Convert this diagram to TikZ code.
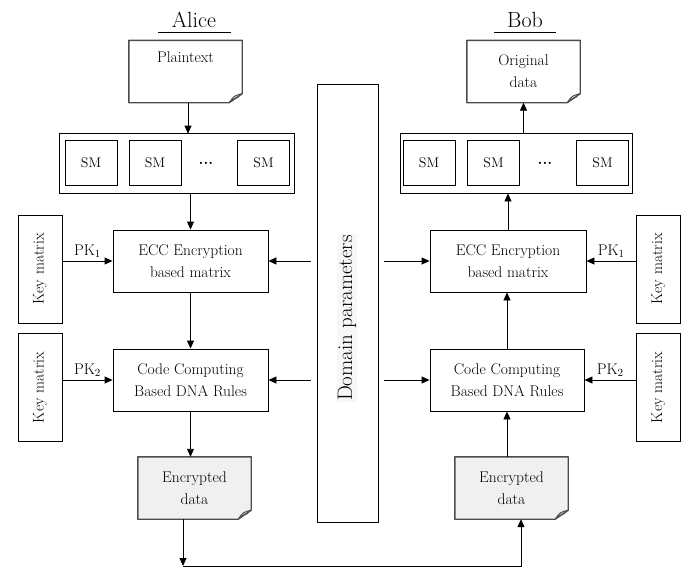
\documentclass[tikz,border=0pt]{standalone}
\usepackage{graphicx}
\usepackage{tikz}
\usetikzlibrary{arrows.meta,backgrounds}
\newcommand{\boxfont}{\fontsize{15.5}{22}\selectfont}
\newcommand{\namefont}{\fontsize{22}{26}\selectfont}
% outline of a document node, with the folded corner
\newcommand{\dogear}[2][white]{%
  \begin{scope}[on background layer]
    \draw[docline,fill=#1] (#2.north west) -- (#2.north east) -- ([yshift=9pt]#2.south east)
      -- ([xshift=-13pt]#2.south east) -- (#2.south west) -- cycle;
  \end{scope}
  \draw[docline,line width=1pt] ([xshift=-13pt]#2.south east)
    .. controls ([xshift=-8pt,yshift=7pt]#2.south east) .. ([yshift=9pt]#2.south east);
  \draw[docline,line width=0.8pt] ([xshift=-10pt,yshift=3pt]#2.south east) -- ([xshift=-3pt,yshift=6pt]#2.south east);
}
\tikzset{
  box/.style={draw, line width=0.9pt, align=center, inner sep=0pt, font=\boxfont},
  docnode/.style={align=center, inner sep=0pt, minimum width=113pt, minimum height=62pt, font=\boxfont},
  docline/.style={line width=1.4pt, draw=black!70, line join=round},
  smbox/.style={draw, line width=0.9pt, minimum width=52pt, minimum height=45pt, inner sep=0pt,
    font=\fontsize{14}{16}\selectfont},
  keybox/.style={box, minimum width=44pt, minimum height=108pt},
  arr/.style={-{Triangle[length=8pt,width=7pt]}, line width=0.9pt},
}
\begin{document}
\begin{tikzpicture}[x=1pt, y=-1pt]
  \useasboundingbox (0,0) rectangle (686,571);

  % headings
  \node[font=\namefont] (alice) at (194,20) {Alice};
  \draw[line width=0.9pt] ([shift={(-36pt,-5pt)}]alice.base) -- ([shift={(37pt,-5pt)}]alice.base);
  \node[font=\namefont] (bob) at (525,20) {Bob};
  \draw[line width=0.9pt] ([shift={(-31pt,-5pt)}]bob.base) -- ([shift={(31pt,-5pt)}]bob.base);

  % documents at the top
  \node[docnode] (plain) at (185.5,71.5) {Plaintext\\\strut};
  \dogear{plain}
  \node[docnode] (orig) at (523.5,71.5) {Original\\data};
  \dogear{orig}

  % SM rows
  \node[box, minimum width=235pt, minimum height=60pt] (smA) at (176.5,163) {};
  \foreach \x/\n in {91/1,155/2,263.5/3}
    \node[smbox] (smA\n) at (\x,162.5) {SM};
  \node[font=\boxfont] (dotsA) at (206,163) {\textbf{...}};
  \node[box, minimum width=232pt, minimum height=60pt] (smB) at (516,163) {};
  \foreach \x/\n in {429/1,493.5/2,602.5/3}
    \node[smbox] (smB\n) at (\x,162.5) {SM};
  \node[font=\boxfont] (dotsB) at (545,163) {\textbf{...}};

  % Alice side
  \node[box, minimum width=155pt, minimum height=62pt] (eccA) at (190.5,261) {ECC Encryption\\based matrix};
  \node[box, minimum width=155pt, minimum height=62pt] (codeA) at (190.5,380) {Code Computing\\Based DNA Rules};
  \node[keybox] (keyA1) at (40,269) {\rotatebox{90}{Key matrix}};
  \node[keybox] (keyA2) at (40,387.5) {\rotatebox{90}{Key matrix}};
  \node[docnode] (encA) at (194.5,488) {Encrypted\\data};
  \dogear[black!6]{encA}

  % Bob side
  \node[box, minimum width=156pt, minimum height=62pt] (eccB) at (508,261) {ECC Encryption\\based matrix};
  \node[box, minimum width=154pt, minimum height=62pt] (codeB) at (507,380) {Code Computing\\Based DNA Rules};
  \node[keybox] (keyB1) at (658.5,269) {\rotatebox{90}{Key matrix}};
  \node[keybox] (keyB2) at (658.5,387.5) {\rotatebox{90}{Key matrix}};
  \node[docnode] (encB) at (511.5,488) {Encrypted\\data};
  \dogear[black!6]{encB}

  % domain parameters
  \node[draw, line width=0.9pt, minimum width=61pt, minimum height=438pt] (dom) at (347.5,303) {};
  \node[font=\fontsize{21}{24}\selectfont, rotate=90, fill=black!3, inner sep=1pt] (domlbl) at (347,318) {Domain parameters};
  \coordinate (domL) at ([xshift=-6pt]dom.west);
  \coordinate (domR) at ([xshift=6pt]dom.east);

  % Alice flow
  \draw[arr] (plain.south -| smA.north) ++(11.5,0) -- ++(0,31);
  \draw[arr] (eccA.north |- smA.south) -- (eccA.north);
  \draw[arr] (eccA) -- (codeA);
  \draw[arr] (codeA.south) -- (codeA.south |- encA.north);
  \draw[arr] (keyA1.east |- eccA) -- node[above, font=\boxfont] (pkA1) {PK$_1$} (eccA.west);
  \draw[arr] (keyA2.east |- codeA) -- node[above, font=\boxfont] (pkA2) {PK$_2$} (codeA.west);
  \draw[arr] (domL |- eccA) -- (eccA.east);
  \draw[arr] (domL |- codeA) -- (codeA.east);

  % Bob flow
  \draw[arr] (domR |- eccB) -- (eccB.west);
  \draw[arr] (domR |- codeB) -- (codeB.west);
  \draw[arr] (keyB1.west |- eccB) -- node[above, font=\boxfont] (pkB1) {PK$_1$} (eccB.east);
  \draw[arr] (keyB2.west |- codeB) -- node[above, font=\boxfont] (pkB2) {PK$_2$} (codeB.east);
  \draw[arr] (codeB.south |- encB.north) -- (codeB.south);
  \draw[arr] (codeB.north) -- (codeB.north |- eccB.south);
  \draw[arr] (eccB.north) -- (eccB.north |- smB.south);
  \draw[arr] (orig.south |- smB.north) -- (orig.south);

  % transfer of the encrypted data
  \coordinate (lowA) at (183,566);
  \coordinate (lowB) at (521,566);
  \draw[arr] (encA.south -| lowA) -- (lowA);
  \draw[arr] (lowA) -- (lowB) -- (lowB |- encB.south);
\end{tikzpicture}
\end{document}
